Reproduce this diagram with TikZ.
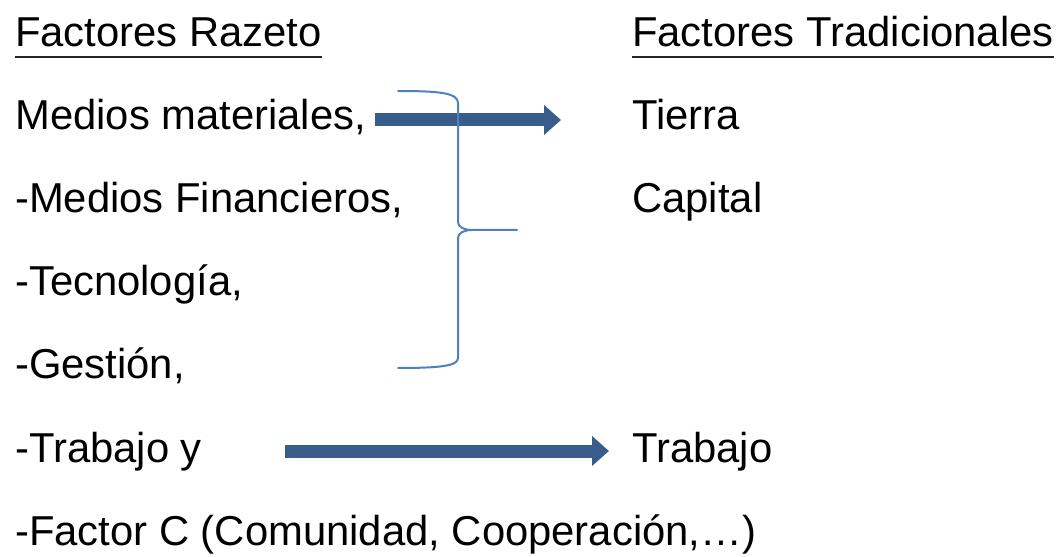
\documentclass[tikz,border=0pt]{standalone}
\usepackage{fontspec}
\setmainfont{Liberation Sans}
\usetikzlibrary{arrows.meta}
\definecolor{arrowblue}{HTML}{385D8A}
\definecolor{braceblue}{HTML}{4F81BD}
\tikzset{
  txt/.style={anchor=base west, inner sep=0pt, font=\fontsize{41.8bp}{50bp}\selectfont, text=black},
  uline/.style={line width=2.6bp, draw=black!85},
  bigarrow/.style={draw=arrowblue, line width=13bp, -{Triangle[width=29bp,length=17bp]}, arrowblue},
  bracestyle/.style={draw=braceblue, line width=2bp, line cap=round, line join=round}
}
\begin{document}
\begin{tikzpicture}[x=1bp, y=-1bp]
\useasboundingbox (0,0) rectangle (1061,557);
% headers
\node[txt] (h1) at (15,47) {Factores Razeto};
\node[txt] (h2) at (632,47) {Factores Tradicionales};
\draw[uline] ([yshift=-10bp]h1.base west) -- ([yshift=-10bp]h1.base east);
\draw[uline] ([yshift=-10bp]h2.base west) -- ([yshift=-10bp]h2.base east);
% left column
\node[txt] (l1) at (15,130) {Medios materiales,};
\node[txt] (l2) at (15,213) {-Medios Financieros,};
\node[txt] (l3) at (15,296) {-Tecnología,};
\node[txt] (l4) at (15,379) {-Gestión,};
\node[txt] (l5) at (15,462) {-Trabajo y};
\node[txt] (l6) at (15,545) {-Factor C (Comunidad, Cooperación,…)};
% right column
\node[txt] (r1) at (632,130) {Tierra};
\node[txt] (r2) at (632,213) {Capital};
\node[txt] (r3) at (632,462) {Trabajo};
% arrows
\coordinate (a1s) at (375,120);
\coordinate (a1e) at (561,120);
\coordinate (a2s) at (285,451);
\coordinate (a2e) at (609,451);
\draw[bigarrow] (a1s) -- (a1e);
\draw[bigarrow] (a2s) -- (a2e);
% brace
\draw[bracestyle] (398,91) .. controls (440,91) and (458,93) .. (458,103)
  -- (458,222) .. controls (458,227) and (464,230) .. (472,230) -- (517,230);
\draw[bracestyle] (472,230) .. controls (464,230) and (458,233) .. (458,238)
  -- (458,358) .. controls (458,366) and (440,368) .. (398,368);
\end{tikzpicture}
\end{document}
